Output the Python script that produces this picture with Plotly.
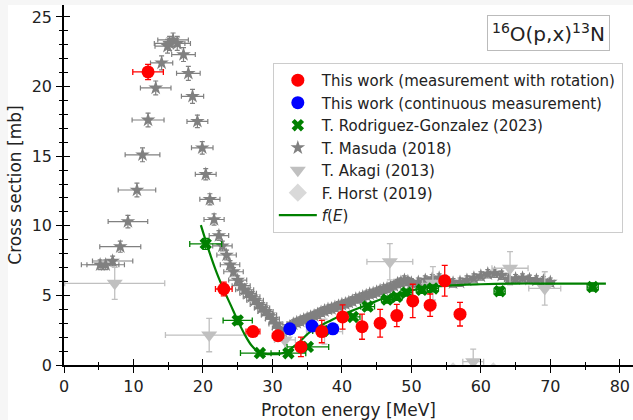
import plotly.graph_objects as go

# ---------------- data ----------------
# This work (measurement with rotation)
rot_E = [12.1, 23.0, 27.2, 30.8, 34.1, 37.1, 40.1, 42.9, 45.5, 47.9, 50.2, 52.7, 54.8, 57.0]
rot_s = [21.05, 5.46, 2.4, 2.1, 1.3, 2.4, 3.45, 2.75, 3.0, 3.55, 4.6, 4.3, 6.05, 3.65]
rot_dE = [2.2, 1.2, 1.0, 0.8, 0.7, 0.6, 0.5, 0.5, 0.5, 0.5, 0.5, 0.5, 0.5, 0.5]
rot_ds = [0.55, 0.5, 0.35, 0.35, 0.7, 0.8, 0.87, 0.9, 1.0, 0.8, 1.2, 0.8, 1.1, 0.85]

# This work (continuous measurement)
cont_E = [32.5, 35.7, 38.7]
cont_s = [2.6, 2.8, 2.6]
cont_dE = [0.5, 0.5, 0.5]
cont_ds = [0.25, 0.25, 0.25]

# T. Rodriguez-Gonzalez (2023)
rg_E = [20.4, 25.0, 28.2, 32.3, 35.1, 37.3, 41.6, 43.7, 46.5, 47.9, 49.3, 51.5, 53.1, 62.7, 76.1]
rg_s = [8.7, 3.2, 0.86, 0.85, 1.3, 2.45, 3.45, 4.2, 4.7, 4.9, 5.2, 5.4, 5.5, 5.3, 5.6]
rg_dE = [2.3, 2.1, 2.8, 2.5, 3.0, 1.5, 1.0, 1.0, 0.8, 0.8, 0.8, 0.8, 0.8, 0.8, 0.8]
rg_ds = [0.4, 0.3, 0.15, 0.15, 0.15, 0.2, 0.2, 0.25, 0.25, 0.25, 0.25, 0.25, 0.25, 0.3, 0.3]

# T. Masuda (2018)
ma_E = [5.2, 6.0, 7.0, 8.1, 9.2, 10.5, 11.3, 12.1, 13.2, 14.05, 14.9, 15.2, 15.7, 16.3,
        17.2, 17.9, 18.5, 19.2, 19.9, 20.4, 21.0, 21.6, 22.3, 22.8, 23.4, 23.9, 24.4,
        25.0, 25.5, 26.0, 26.5, 27.0, 27.5, 28.0, 28.5, 29.0, 29.5, 30.0, 30.5, 31.0,
        31.5, 32.0, 32.5, 33.0, 33.5, 34.0, 34.5, 35.0, 35.5, 36.0, 36.5, 37.0, 37.5,
        38.0, 38.5, 39.0, 39.5, 40.0, 40.5, 41.0, 41.5, 42.0, 42.5, 43.0, 43.5, 44.0,
        44.5, 45.0, 45.5, 46.0, 46.5, 47.0, 47.5, 48.0, 48.5, 49.0, 49.5, 50.0, 51.0,
        52.0, 53.0, 54.0, 55.0, 56.0, 57.0, 58.0, 59.0, 60.0, 61.0, 62.0, 63.0, 64.0,
        65.0, 66.0, 67.0, 68.0, 69.0, 70.0]
ma_s = [7.2, 7.2, 7.47, 8.5, 10.3, 12.57, 15.1, 17.6, 19.9, 21.7, 22.9, 23.1, 23.35, 23.1,
        22.3, 20.95, 19.3, 17.5, 15.6, 13.7, 11.9, 10.45, 9.3, 8.55, 7.9, 7.2, 6.7,
        6.1, 5.7, 5.4, 5.15, 4.9, 4.65, 4.35, 4.1, 3.85, 3.6, 3.3, 2.95, 2.65,
        2.4, 2.5, 2.75, 2.95, 3.05, 3.15, 3.25, 3.35, 3.45, 3.55, 3.65, 3.8, 3.9,
        4.0, 4.05, 4.15, 4.25, 4.35, 4.4, 4.5, 4.6, 4.75, 4.8, 4.9, 5.0, 5.1,
        5.15, 5.25, 5.35, 5.45, 5.5, 5.6, 5.7, 5.85, 5.95, 6.1, 6.0, 5.9, 5.95,
        6.1, 6.2, 6.25, 6.0, 5.9, 5.95, 6.1, 6.25, 6.4, 6.55, 6.6, 6.45, 6.15,
        6.2, 6.25, 6.15, 6.1, 6.05, 5.95]
ma_dE = [2.7, 2.7, 2.9, 2.95, 2.85, 2.7, 2.5, 2.3, 2.2, 1.6, 1.8, 2.2, 2.2, 1.9,
         1.7, 1.7, 1.6, 1.5, 1.55, 1.5, 1.45, 1.45, 1.4, 1.4, 1.4, 1.4, 1.4,
         1.3, 1.3, 1.3, 1.2, 1.2, 1.2, 1.2, 1.1, 1.1, 1.1, 1.0, 1.0, 1.0,
         1.0, 0.9, 0.9, 0.9, 0.9, 0.9, 0.8, 0.8, 0.8, 0.8, 0.8, 0.8, 0.8,
         0.7, 0.7, 0.7, 0.7, 0.7, 0.7, 0.7, 0.7, 0.7, 0.7, 0.7, 0.7, 0.6,
         0.6, 0.6, 0.6, 0.6, 0.6, 0.6, 0.6, 0.6, 0.6, 0.6, 0.6, 0.6, 0.6,
         0.6, 0.6, 0.6, 0.6, 0.6, 0.6, 0.6, 0.6, 0.6, 0.6, 0.6, 0.6, 0.6,
         0.6, 0.6, 0.6, 0.6, 0.6, 0.6]
ma_ds = [0.35, 0.35, 0.35, 0.4, 0.45, 0.5, 0.5, 0.5, 0.5, 0.5, 0.5, 0.5, 0.5, 0.5,
         0.5, 0.5, 0.5, 0.45, 0.45, 0.4, 0.4, 0.4, 0.35, 0.35, 0.35, 0.3, 0.3,
         0.3, 0.3, 0.3, 0.3, 0.3, 0.3, 0.3, 0.3, 0.3, 0.3, 0.3, 0.3, 0.3,
         0.3, 0.3, 0.3, 0.3, 0.3, 0.3, 0.3, 0.3, 0.3, 0.3, 0.3, 0.3, 0.3,
         0.3, 0.3, 0.3, 0.3, 0.3, 0.3, 0.3, 0.3, 0.3, 0.3, 0.3, 0.3, 0.3,
         0.3, 0.3, 0.3, 0.3, 0.3, 0.3, 0.3, 0.3, 0.3, 0.3, 0.3, 0.3, 0.3,
         0.3, 0.3, 0.3, 0.3, 0.3, 0.3, 0.3, 0.3, 0.3, 0.3, 0.3, 0.3, 0.3,
         0.3, 0.3, 0.3, 0.3, 0.3, 0.3]

# T. Akagi (2013)
ak_E = [7.3, 20.9, 31.8, 37.5, 46.9, 53.1, 58.9, 64.2, 69.2]
ak_s = [5.87, 2.15, 1.8, 2.4, 7.42, 5.87, 0.24, 6.95, 5.5]
ak_dE = [7.2, 6.3, 1.5, 2.6, 3.3, 1.5, 1.5, 2.6, 2.3]
ak_ds = [1.15, 1.2, 1.0, 0.9, 1.3, 1.2, 0.9, 1.2, 1.2]

# F. Horst (2019)
ho_E = [56.0, 61.8]
ho_s = [-0.46, -0.46]

# f(E) fit curve
f_E = [19.7, 21.0, 22.0, 23.0, 24.0, 25.0, 26.0, 27.0, 28.0, 29.0, 30.0, 31.0, 32.0,
       33.0, 34.0, 35.0, 36.0, 38.0, 40.0, 42.0, 44.0, 46.0, 48.0, 50.0, 52.0, 55.0,
       60.0, 65.0, 70.0, 78.0]
f_s = [10.05, 8.0, 6.6, 5.4, 4.3, 3.2, 2.2, 1.4, 0.95, 0.8, 0.78, 0.8, 0.95,
       1.3, 1.7, 2.2, 2.6, 3.1, 3.6, 4.0, 4.4, 4.8, 5.1, 5.35, 5.55, 5.7,
       5.8, 5.85, 5.85, 5.85]

x_ticks = [0, 10, 20, 30, 40, 50, 60, 70, 80]
y_ticks = [0, 5, 10, 15, 20, 25]

FONT = "DejaVu Sans"


def err(arr, color, width=1.3, cap=3):
    return dict(type="data", array=arr, visible=True, color=color, thickness=width, width=cap)


fig = go.Figure()

fig.add_trace(go.Scatter(
    x=ma_E, y=ma_s, mode="markers", name="T. Masuda (2018)", legendrank=4,
    marker=dict(symbol="star", size=11, color="#808080"),
    error_x=err(ma_dE, "#808080", 1.2, 2.5), error_y=err(ma_ds, "#808080", 1.2, 2.5)))

fig.add_trace(go.Scatter(
    x=ak_E, y=ak_s, mode="markers", name="T. Akagi (2013)", legendrank=5,
    marker=dict(symbol="triangle-down", size=14, color="#c0c0c0"),
    error_x=err(ak_dE, "#c0c0c0"), error_y=err(ak_ds, "#c0c0c0")))

fig.add_trace(go.Scatter(
    x=ho_E, y=ho_s, mode="markers", name="F. Horst (2019)", legendrank=6,
    marker=dict(symbol="diamond", size=14, color="#d9d9d9")))

fig.add_trace(go.Scatter(
    x=rg_E, y=rg_s, mode="markers", name="T. Rodriguez-Gonzalez (2023)", legendrank=3,
    marker=dict(symbol="x", size=11, color="#008000"),
    error_x=err(rg_dE, "#008000"), error_y=err(rg_ds, "#008000")))

fig.add_trace(go.Scatter(
    x=f_E, y=f_s, mode="lines", name="<i>f</i>(<i>E</i>)", legendrank=7,
    line=dict(color="#008000", width=2.2, shape="spline")))

fig.add_trace(go.Scatter(
    x=cont_E, y=cont_s, mode="markers", name="This work (continuous measurement)", legendrank=2,
    marker=dict(symbol="circle", size=13, color="#0000ff"),
    error_x=err(cont_dE, "#0000ff"), error_y=err(cont_ds, "#0000ff")))

fig.add_trace(go.Scatter(
    x=rot_E, y=rot_s, mode="markers", name="This work (measurement with rotation)", legendrank=1,
    marker=dict(symbol="circle", size=13, color="#ff0000"),
    error_x=err(rot_dE, "#ff0000"), error_y=err(rot_ds, "#ff0000")))

# invisible trace on overlay axes (for inward half of crossing ticks)
fig.add_trace(go.Scatter(x=[0], y=[0], xaxis="x2", yaxis="y2", mode="markers",
                         marker=dict(opacity=0), showlegend=False, hoverinfo="skip"))

XR = [0, 81.9]
YR = [0, 25.86]

axis_common = dict(showgrid=False, zeroline=False, linecolor="black", linewidth=1.5,
                   tickcolor="black", tickwidth=1.4,
                   tickfont=dict(family=FONT, size=16, color="#222"))

fig.update_layout(
    width=633, height=420,
    margin=dict(l=64, r=0, t=5, b=55),
    paper_bgcolor="white", plot_bgcolor="white",
    font=dict(family=FONT, size=15, color="#222"),
    showlegend=True,
    legend=dict(x=0.367, y=0.839, xanchor="left", yanchor="top",
                bgcolor="rgba(255,255,255,0.85)", bordercolor="#cccccc", borderwidth=1,
                font=dict(family=FONT, size=15, color="#222"),
                itemwidth=38, tracegroupgap=0),
    xaxis=dict(range=XR, tickvals=x_ticks, ticks="outside", ticklen=6, showline=True,
               minor=dict(ticks="outside", ticklen=3.5, dtick=5, tick0=0, tickcolor="black", tickwidth=1.2),
               title=dict(text="Proton energy [MeV]", font=dict(family=FONT, size=17, color="#222"), standoff=9),
               **axis_common),
    yaxis=dict(range=YR, tickvals=y_ticks, ticks="outside", ticklen=6, showline=True,
               ticklabelstandoff=1,
               minor=dict(ticks="outside", ticklen=3.5, dtick=1, tick0=0, tickcolor="black", tickwidth=1.2),
               title=dict(text="Cross section [mb]", font=dict(family=FONT, size=17, color="#222"), standoff=6),
               **axis_common),
    xaxis2=dict(range=XR, overlaying="x", anchor="y2", tickvals=x_ticks, ticks="inside", ticklen=6,
                showticklabels=False, showline=False, showgrid=False, zeroline=False,
                tickcolor="black", tickwidth=1.4,
                minor=dict(ticks="inside", ticklen=3.5, dtick=5, tick0=0, tickcolor="black", tickwidth=1.2)),
    yaxis2=dict(range=YR, overlaying="y", anchor="x2", tickvals=y_ticks, ticks="inside", ticklen=6,
                showticklabels=False, showline=False, showgrid=False, zeroline=False,
                tickcolor="black", tickwidth=1.4,
                minor=dict(ticks="inside", ticklen=3.5, dtick=1, tick0=0, tickcolor="black", tickwidth=1.2)),
)

fig.add_annotation(
    text="<sup>16</sup>O(p,x)<sup>13</sup>N", xref="paper", yref="paper",
    x=0.851, y=0.922, xanchor="center", yanchor="middle", showarrow=False,
    font=dict(family=FONT, size=20, color="#222"),
    bgcolor="white", bordercolor="#bbbbbb", borderwidth=1, borderpad=4)

# light strips at the top and left edges of the picture
fig.add_shape(type="rect", xref="paper", yref="paper", x0=-64 / 569, x1=1, y0=1, y1=1 + 5 / 360,
              fillcolor="#f6f6f6", line_width=0, layer="below")
fig.add_shape(type="rect", xref="paper", yref="paper", x0=-64 / 569, x1=-56 / 569, y0=-55 / 360, y1=1 + 5 / 360,
              fillcolor="#f6f6f6", line_width=0, layer="below")

fig.write_html("out.html")
